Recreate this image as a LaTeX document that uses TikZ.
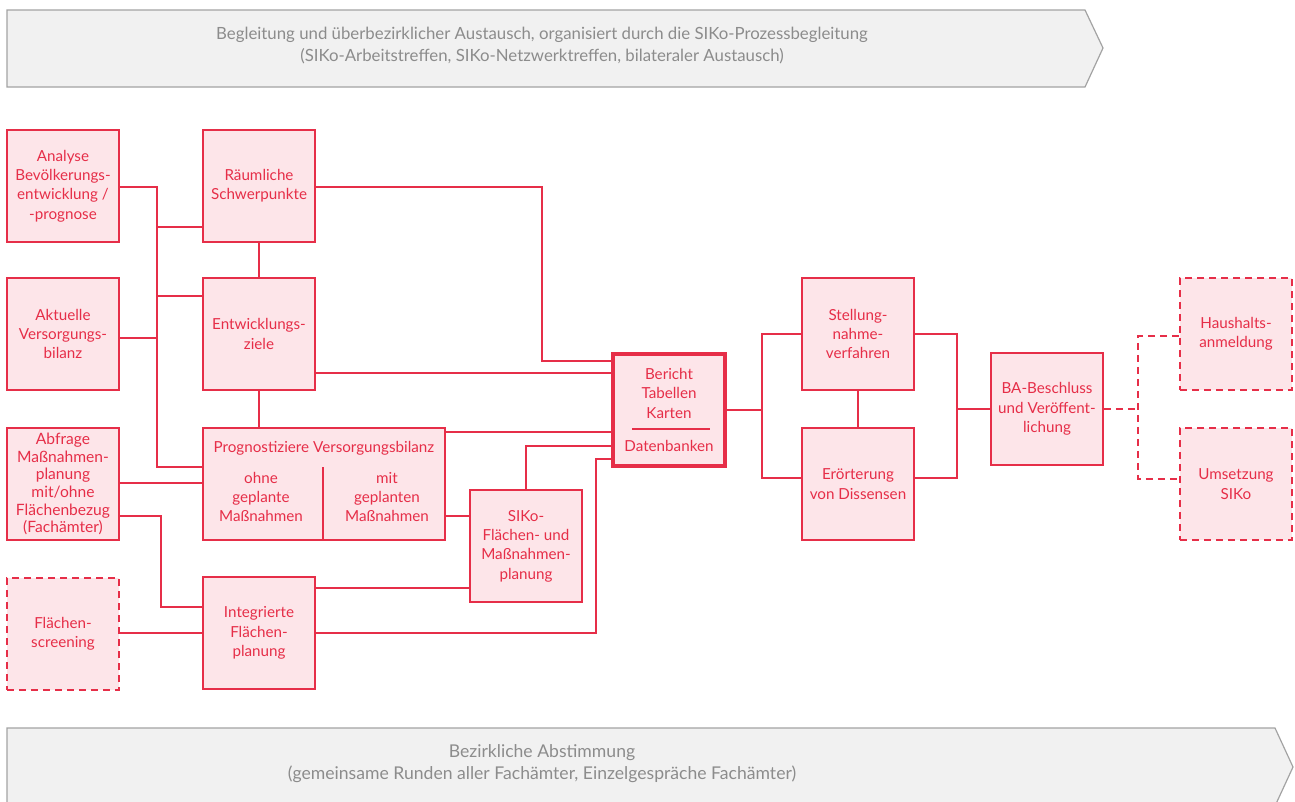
\documentclass[tikz,border=0pt]{standalone}
\usepackage{fontspec}
\setmainfont{Lato}
\usetikzlibrary{calc}

\definecolor{sikored}{HTML}{E62E48}
\definecolor{sikopink}{HTML}{FDE5E9}
\definecolor{bandfill}{HTML}{F1F1F1}
\definecolor{bandline}{HTML}{A3A3A3}
\definecolor{bandtext}{HTML}{8C8C8C}

\tikzset{
  box/.style={draw=sikored, fill=sikopink, line width=1.6pt, minimum width=112pt,
    minimum height=112pt, inner sep=1pt, text=sikored, align=center,
    font=\fontsize{15.2}{19.3}\selectfont},
  planbox/.style={box, dash pattern=on 7pt off 5pt},
  hubbox/.style={box, line width=3.2pt},
  boxtext/.style={text=sikored, align=center, inner sep=0pt, font=\fontsize{15.2}{19.3}\selectfont},
  link/.style={draw=sikored, line width=1.6pt},
  planlink/.style={link, dash pattern=on 7pt off 5pt},
  band/.style={fill=bandfill, draw=bandline, line width=1.2pt},
  bandlabel/.style={text=bandtext, align=center, font=\fontsize{16.8}{22}\selectfont}
}

\begin{document}
\begin{tikzpicture}[x=1pt, y=-1pt]

        \useasboundingbox (0,0) rectangle (1295,801);
        \clip (0,0) rectangle (1295,801);

        % process bands
        \draw [band] (7,10) -- (1085,10) -- (1103,48) -- (1085,87) -- (7,87) -- cycle;
        \node [bandlabel] (bandtop) at (542,46) {Begleitung und überbezirklicher Austausch, organisiert durch die SIKo-Prozessbegleitung\\(SIKo-Arbeitstreffen, SIKo-Netzwerktreffen, bilateraler Austausch)};
        \draw [band] (7,728) -- (1275,728) -- (1293,767) -- (1275,806) -- (7,806) -- cycle;
        \node [bandlabel, font=\fontsize{17.6}{22}\selectfont] (bandbottom) at (542,764) {Bezirkliche Abstimmung\\(gemeinsame Runden aller Fachämter, Einzelgespräche Fachämter)};

        % inputs
        \node [box] (ana) at (63,186) {Analyse\\Bevölkerungs-\\entwicklung /\\-prognose};
        \node [box] (akt) at (63,334) {Aktuelle\\Versorgungs-\\bilanz};
        \node [box, font=\fontsize{15.6}{17.6}\selectfont] (abf) at (63,484) {Abfrage\\Maßnahmen-\\planung\\mit/ohne\\Flächenbezug\\(Fachämter)};
        \node [planbox] (flae) at (63,634) {Flächen-\\screening};

        % planning steps
        \node [box] (rau) at (259,186) {Räumliche\\Schwerpunkte};
        \node [box] (ent) at (259,334) {Entwicklungs-\\ziele};
        \node [box, minimum width=242pt] (prog) at (324,484) {};
        \node [boxtext] (progtitle) at (324,448) {Prognostiziere Versorgungsbilanz};
        \node [boxtext] (progohne) at (261,497) {ohne\\geplante\\Maßnahmen};
        \node [boxtext] (progmit) at (387,497) {mit\\geplanten\\Maßnahmen};
        \draw [link] (323,467) -- (prog.south -| 323,0);
        \node [box] (int) at (259,633) {Integrierte\\Flächen-\\planung};
        \node [box] (siko) at (526,546) {SIKo-\\Flächen- und\\Maßnahmen-\\planung};

        % results
        \node [hubbox] (ber) at (669,410) {Bericht\\Tabellen\\Karten\\[14pt]Datenbanken};
        \draw [link] (632,429) -- (710,429);
        \node [box] (stel) at (858,334) {Stellung-\\nahme-\\verfahren};
        \node [box] (eroe) at (858,484) {Erörterung\\von Dissensen};
        \node [box] (ba) at (1047,409) {BA-Beschluss\\und Veröffent-\\lichung};
        \node [planbox] (haus) at (1236,334) {Haushalts-\\anmeldung};
        \node [planbox] (ums) at (1236,484) {Umsetzung\\SIKo};

        % left bus
        \draw [link] (ana.east |- 0,187) -| (157,467) -- (prog.west |- 0,467);
        \draw [link] (157,227) -- (rau.west |- 0,227);
        \draw [link] (157,296) -- (ent.west |- 0,296);
        \draw [link] (akt.east |- 0,338) -- (157,338);
        \draw [link] (rau.south) -- (ent.north);
        \draw [link] (ent.south) -- (prog.north -| ent.south);
        \draw [link] (abf.east |- 0,483) -- (prog.west |- 0,483);
        \draw [link] (abf.east |- 0,516) -| (161,607) -- (int.west |- 0,607);
        \draw [link] (flae.east |- 0,633) -- (int.west |- 0,633);

        % into the report
        \draw [link] (rau.east |- 0,187) -| (542,361) -- (ber.west |- 0,361);
        \draw [link] (ent.east |- 0,373) -- (ber.west |- 0,373);
        \draw [link] (prog.east |- 0,432) -- (ber.west |- 0,432);
        \draw [link] (prog.east |- 0,516) -- (siko.west |- 0,516);
        \draw [link] (siko.north) |- (ber.west |- 0,446);
        \draw [link] (int.east |- 0,588) -- (siko.west |- 0,588);
        \draw [link] (int.east |- 0,633) -| (596,459) -- (ber.west |- 0,459);

        % right part
        \draw [link] (ber.east) -- (762,410);
        \draw [link] (stel.west) -| (762,478) -- (eroe.west |- 0,478);
        \draw [link] (stel.south) -- (eroe.north);
        \draw [link] (stel.east) -| (957,478) -- (eroe.east |- 0,478);
        \draw [link] (957,409) -- (ba.west);
        \draw [planlink] (ba.east) -- (1138,409);
        \draw [planlink] (haus.west |- 0,336) -| (1138,479) -- (ums.west |- 0,479);

\end{tikzpicture}
\end{document}
